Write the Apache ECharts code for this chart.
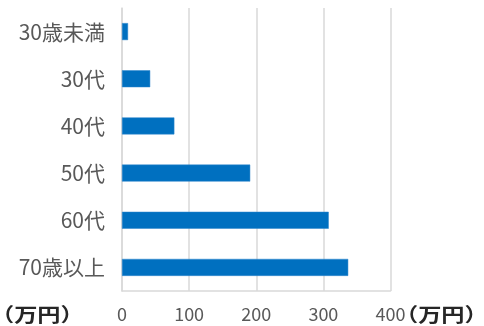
<!DOCTYPE html>
<html>
<head>
<meta charset="utf-8">
<script src="https://cdn.jsdelivr.net/npm/echarts@6/dist/echarts.min.js"></script>
<style>
html,body{margin:0;padding:0;background:#fff;}
#chart{width:484px;height:326px;}
</style>
</head>
<body>
<div id="chart"></div>
<script>
var categories = ['30歳未満', '30代', '40代', '50代', '60代', '70歳以上'];
var values = [9, 42, 78, 191, 308, 337];
var xTicks = [0, 100, 200, 300, 400];
var unitLabel = '（万円）';

var FONT = '"Noto Sans CJK JP", "Noto Sans", sans-serif';
var chart = echarts.init(document.getElementById('chart'), null, {renderer: 'canvas'});
chart.setOption({
  animation: false,
  grid: {left: 122, right: 93.5, top: 8, bottom: 35, containLabel: false},
  xAxis: {
    type: 'value',
    min: xTicks[0],
    max: xTicks[xTicks.length - 1],
    interval: xTicks[1] - xTicks[0],
    axisLine: {show: true, lineStyle: {color: '#d9d9d9', width: 1.5}},
    axisTick: {show: false},
    splitLine: {show: true, lineStyle: {color: '#d9d9d9', width: 1.5}},
    axisLabel: {color: '#595959', fontSize: 18, fontFamily: FONT, margin: 14}
  },
  yAxis: {
    type: 'category',
    inverse: true,
    data: categories,
    axisLine: {show: true, lineStyle: {color: '#d9d9d9', width: 1.5}},
    axisTick: {show: false},
    axisLabel: {color: '#595959', fontSize: 21, fontFamily: FONT, margin: 17}
  },
  series: [{
    type: 'bar',
    data: values,
    barWidth: 17,
    itemStyle: {color: '#0070C0', borderColor: '#2f86cc', borderWidth: 0.5}
  }],
  graphic: [
    {type: 'text', x: -9, y: 315, scaleX: 1.22, style: {text: unitLabel, font: 'bold 19px ' + FONT, fill: '#262626', textVerticalAlign: 'middle'}},
    {type: 'text', x: 395, y: 315, scaleX: 1.22, style: {text: unitLabel, font: 'bold 19px ' + FONT, fill: '#262626', textVerticalAlign: 'middle'}}
  ]
});
</script>
</body>
</html>
